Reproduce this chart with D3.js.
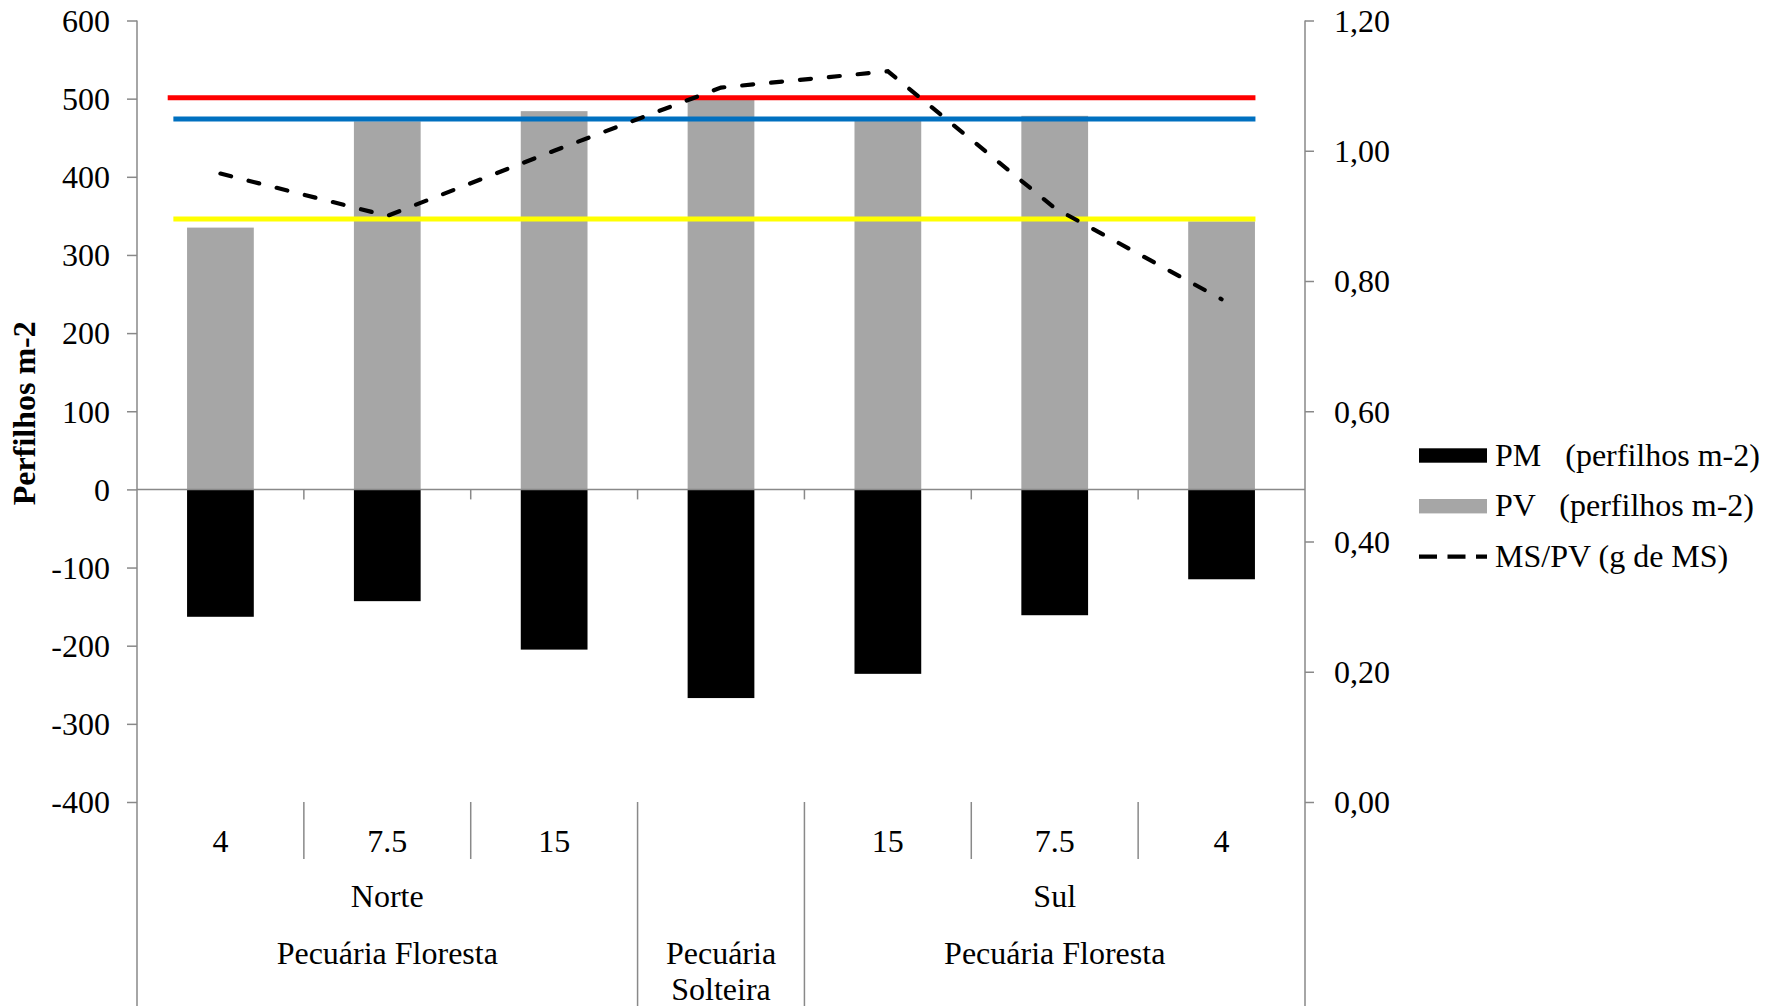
<!DOCTYPE html>
<html>
<head>
<meta charset="utf-8">
<script src="https://cdn.jsdelivr.net/npm/d3@7"></script>
<style>
  html, body { margin: 0; padding: 0; background: #fff; }
  svg { display: block; }
  text { font-family: "Liberation Serif", "Times New Roman", serif; fill: #000; }
</style>
</head>
<body>
<svg id="chart" width="1777" height="1006"></svg>
<script>
// ---------- DATA ----------
const categories = ["4", "7.5", "15", "", "15", "7.5", "4"];
const level2Groups = [
  { label: "Norte", start: 0, end: 3 },
  { label: "", start: 3, end: 4 },
  { label: "Sul", start: 4, end: 7 }
];
const level3Groups = [
  { label: ["Pecuária Floresta"], start: 0, end: 3 },
  { label: ["Pecuária", "Solteira"], start: 3, end: 4 },
  { label: ["Pecuária Floresta"], start: 4, end: 7 }
];
const pvValues = [335, 471, 484, 500, 472, 478, 343];       // PV (perfilhos m-2)
const pmValues = [-163, -143, -205, -267, -236, -161, -115]; // PM (perfilhos m-2)
const msValues = [0.965, 0.90, 1.00, 1.097, 1.122, 0.912, 0.772]; // MS/PV (g de MS)
const refLineValues = [501, 474, 346];
const leftTicks = [-400, -300, -200, -100, 0, 100, 200, 300, 400, 500, 600];
const rightTicks = [0, 0.2, 0.4, 0.6, 0.8, 1.0, 1.2];
const legendLabels = ["PM   (perfilhos m-2)", "PV   (perfilhos m-2)", "MS/PV (g de MS)"];

// ---------- STYLE / LAYOUT ----------
const W = 1777, H = 1006;
const plotL = 137, plotR = 1305, plotT = 20.5, plotB = 802;
const axisColor = "#898989";
const fontSize = 32;
const serif = "Liberation Serif, Times New Roman, serif";
const refColors = ["#FF0000", "#0070C0", "#FFFF00"];
const refStartFrac = [0.184, 0.218, 0.218]; // in category units from left edge
const refEndFrac = 6.703;

const svg = d3.select("#chart");

const idx = d3.range(categories.length);
const xCat = d3.scaleBand().domain(idx).range([plotL, plotR]).padding(0);
const xBar = d3.scaleBand().domain(idx).range([plotL, plotR]).paddingInner(0.6).paddingOuter(0.3);
const yL = d3.scaleLinear().domain([-400, 600]).range([plotB, plotT]);
const yR = d3.scaleLinear().domain([0, 1.2]).range([plotB, plotT]);
const step = xCat.step();
const catPos = v => plotL + v * step;

// ---------- BARS ----------
svg.append("g").selectAll("rect.pv").data(pvValues).join("rect")
  .attr("x", (d, i) => xBar(i)).attr("width", xBar.bandwidth())
  .attr("y", d => yL(d)).attr("height", d => yL(0) - yL(d))
  .attr("fill", "#A6A6A6");

svg.append("g").selectAll("rect.pm").data(pmValues).join("rect")
  .attr("x", (d, i) => xBar(i)).attr("width", xBar.bandwidth())
  .attr("y", yL(0)).attr("height", d => yL(d) - yL(0))
  .attr("fill", "#000");

// ---------- LEFT AXIS ----------
const gL = svg.append("g").attr("transform", `translate(${plotL},0)`)
  .call(d3.axisLeft(yL).tickValues(leftTicks).tickSize(10).tickPadding(17).tickFormat(d => String(d)));
gL.attr("font-family", serif).attr("font-size", fontSize);
gL.select(".domain").remove();
gL.selectAll(".tick line").attr("stroke", axisColor).attr("stroke-width", 1.5);
gL.selectAll(".tick text").attr("font-size", fontSize).attr("font-family", serif).attr("dy", "0.34em");
svg.append("line").attr("x1", plotL).attr("x2", plotL).attr("y1", plotT).attr("y2", H)
  .attr("stroke", axisColor).attr("stroke-width", 1.5);

// ---------- RIGHT AXIS ----------
const fmtR = d => d3.format(".2f")(d).replace(".", ",");
const gR = svg.append("g").attr("transform", `translate(${plotR},0)`)
  .call(d3.axisRight(yR).tickValues(rightTicks).tickSize(9).tickPadding(20).tickFormat(fmtR));
gR.attr("font-family", serif).attr("font-size", fontSize);
gR.select(".domain").remove();
gR.selectAll(".tick line").attr("stroke", axisColor).attr("stroke-width", 1.5);
gR.selectAll(".tick text").attr("font-size", fontSize).attr("font-family", serif).attr("dy", "0.34em");
svg.append("line").attr("x1", plotR).attr("x2", plotR).attr("y1", plotT).attr("y2", H)
  .attr("stroke", axisColor).attr("stroke-width", 1.5);

// ---------- ZERO (CATEGORY) AXIS ----------
svg.append("line").attr("x1", plotL).attr("x2", plotR).attr("y1", yL(0)).attr("y2", yL(0))
  .attr("stroke", axisColor).attr("stroke-width", 1.5);
svg.append("g").selectAll("line").data(d3.range(1, categories.length)).join("line")
  .attr("x1", d => catPos(d)).attr("x2", d => catPos(d))
  .attr("y1", yL(0)).attr("y2", yL(0) + 10)
  .attr("stroke", axisColor).attr("stroke-width", 1.5);

// ---------- REFERENCE LINES ----------
svg.append("g").selectAll("line").data(refLineValues).join("line")
  .attr("x1", (d, i) => catPos(refStartFrac[i])).attr("x2", catPos(refEndFrac))
  .attr("y1", d => yL(d)).attr("y2", d => yL(d))
  .attr("stroke", (d, i) => refColors[i]).attr("stroke-width", 5);

// ---------- MS/PV LINE ----------
const line = d3.line().x((d, i) => xCat(i) + xCat.bandwidth() / 2).y(d => yR(d));
svg.append("path").datum(msValues).attr("d", line)
  .attr("fill", "none").attr("stroke", "#000").attr("stroke-width", 4.2)
  .attr("stroke-dasharray", "11,18").attr("stroke-linecap", "round");

// ---------- MULTI-LEVEL CATEGORY LABELS ----------
const lvl1Base = 852, lvl2Base = 907, lvl3Base = 964, lineGap = 35.5;
const sepLvl1Bottom = 859;
const groupBounds = new Set([0, 3, 4, 7]);
svg.append("g").selectAll("line").data(d3.range(1, categories.length).filter(b => !groupBounds.has(b))).join("line")
  .attr("x1", d => catPos(d)).attr("x2", d => catPos(d))
  .attr("y1", plotB).attr("y2", sepLvl1Bottom)
  .attr("stroke", axisColor).attr("stroke-width", 1.5);
svg.append("g").selectAll("line").data([3, 4]).join("line")
  .attr("x1", d => catPos(d)).attr("x2", d => catPos(d))
  .attr("y1", plotB).attr("y2", H)
  .attr("stroke", axisColor).attr("stroke-width", 1.5);

svg.append("g").selectAll("text").data(categories).join("text")
  .attr("x", (d, i) => xCat(i) + xCat.bandwidth() / 2).attr("y", lvl1Base)
  .attr("text-anchor", "middle").attr("font-size", fontSize).text(d => d);

svg.append("g").selectAll("text").data(level2Groups).join("text")
  .attr("x", d => (catPos(d.start) + catPos(d.end)) / 2).attr("y", lvl2Base)
  .attr("text-anchor", "middle").attr("font-size", fontSize).text(d => d.label);

const g3 = svg.append("g").selectAll("text").data(level3Groups).join("text")
  .attr("x", d => (catPos(d.start) + catPos(d.end)) / 2).attr("y", lvl3Base)
  .attr("text-anchor", "middle").attr("font-size", fontSize);
g3.selectAll("tspan").data(d => d.label.map(l => ({ l, x: (catPos(d.start) + catPos(d.end)) / 2 }))).join("tspan")
  .attr("x", d => d.x).attr("dy", (d, i) => i === 0 ? 0 : lineGap).text(d => d.l);

// ---------- Y TITLE ----------
svg.append("text")
  .attr("transform", `translate(35,${(plotT + plotB) / 2 + 2}) rotate(-90)`)
  .attr("text-anchor", "middle").attr("font-size", fontSize).attr("font-weight", "bold")
  .text("Perfilhos m-2");

// ---------- LEGEND ----------
const legX = 1419, legW = 68, legTextX = 1495;
const legY = [455.5, 506.2, 556.7];
const leg = svg.append("g");
leg.append("rect").attr("x", legX).attr("y", legY[0] - 7.2).attr("width", legW).attr("height", 14.4).attr("fill", "#000");
leg.append("rect").attr("x", legX).attr("y", legY[1] - 7.2).attr("width", legW).attr("height", 14.4).attr("fill", "#A6A6A6");
leg.append("line").attr("x1", legX).attr("x2", legX + legW).attr("y1", legY[2]).attr("y2", legY[2])
  .attr("stroke", "#000").attr("stroke-width", 4.2).attr("stroke-dasharray", "18,10.5");
leg.selectAll("text").data(legendLabels).join("text")
  .attr("x", legTextX).attr("y", (d, i) => legY[i] + 10)
  .attr("font-size", fontSize).style("white-space", "pre").attr("xml:space", "preserve")
  .text(d => d);
</script>
</body>
</html>
